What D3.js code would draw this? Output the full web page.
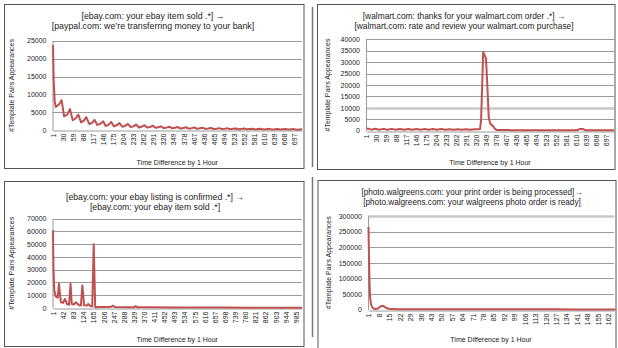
<!DOCTYPE html>
<html>
<head>
<meta charset="utf-8">
<script src="https://cdn.jsdelivr.net/npm/d3@7"></script>
<style>
  body { margin: 0; background: #fff; }
  svg { display: block; }
  text { font-family: "Liberation Sans", Arial, sans-serif; fill: #222; }
</style>
</head>
<body>
<script>
// tick labels (hours)
var xLabelsEbaySold = [1,30,59,88,117,146,175,204,233,262,291,320,349,378,407,436,465,494,523,552,581,610,639,668,697];
var xLabelsWalmart = [1,30,59,88,117,146,175,204,233,262,291,320,349,378,407,436,465,494,523,552,581,610,639,668,697];
var xLabelsEbayList = [1,42,83,124,165,206,247,288,329,370,411,452,493,534,575,616,657,698,739,780,821,862,903,944,985];
var xLabelsWalgreens = [1,8,15,22,29,36,43,50,57,64,71,78,85,92,99,106,113,120,127,134,141,148,155,162];

var yTicksEbaySold = [0,5000,10000,15000,20000,25000];
var yTicksWalmart = [0,5000,10000,15000,20000,25000,30000,35000,40000];
var yTicksEbayList = [0,10000,20000,30000,40000,50000,60000,70000];
var yTicksWalgreens = [0,50000,100000,150000,200000,250000,300000];

// [hour, #template pairs] vertices
var ebaySold = [
  [1,23800],[3,14000],[6,8000],[9,6500],[18,7200],[26,8400],[33,3900],[42,4400],[50,5900],
  [58,2800],[66,3300],[74,4400],[82,2200],[90,2700],[97,3700],[106,1700],[114,2100],[121,2900],
  [129,1500],[138,1800],[146,2500],[153,1200],[161,1500],[169,2300],[177,1100],[185,1400],[193,2000],
  [201,1000],[209,1200],[217,1800],[225,900],[233,1100],[241,1600],[249,800],[257,1000],[265,1400],
  [273,750],[281,900],[289,1300],[297,700],[305,850],[313,1100],[321,600],[329,750],[337,1000],
  [345,550],[353,700],[361,900],[369,500],[377,650],[385,850],[393,450],[401,600],[409,800],
  [417,420],[425,550],[433,700],[441,380],[449,500],[457,650],[465,350],[473,450],[481,600],
  [489,330],[497,420],[505,550],[513,300],[521,400],[529,500],[537,280],[545,380],[553,480],
  [561,260],[569,350],[577,450],[585,250],[593,330],[601,420],[609,230],[617,310],[625,400],
  [633,220],[641,290],[649,380],[657,200],[665,280],[673,350],[681,190],[689,260],[697,330],
  [705,180],[713,250],[720,300]
];
var walmart = [
  [1,1000],[6,900],[14,450],[26,850],[38,450],[50,800],[62,400],[74,800],[86,400],[98,750],
  [110,400],[122,750],[134,400],[146,750],[158,400],[170,700],[182,400],[194,700],[206,400],
  [218,700],[230,400],[242,650],[254,400],[266,650],[278,400],[290,650],[302,400],[314,650],
  [326,600],[331,700],[334,5000],[340,34300],[343,33500],[348,31700],[352,20000],[356,6000],
  [360,3200],[364,2500],[368,2200],[374,800],[380,300],[420,250],[470,200],[520,200],[570,200],
  [612,200],[622,800],[630,700],[638,200],[680,150],[720,150]
];
var ebayList = [
  [1,60900],[3,30000],[6,14000],[12,9000],[20,8000],[25,18900],[33,4500],[42,4000],[49,7100],
  [58,3100],[66,2500],[72,18900],[77,3100],[86,2800],[93,4500],[107,2100],[114,2000],[120,17600],
  [127,2100],[138,2000],[144,3100],[152,1500],[160,1200],[166,49900],[172,600],[190,800],[214,700],
  [236,900],[244,1800],[252,700],[300,600],[330,600],[336,1500],[342,600],[400,500],[500,400],
  [600,300],[700,300],[800,250],[900,200],[1010,200]
];
var walgreens = [
  [1,265000],[2,45000],[3,12000],[4,5000],[5,2500],[6,2000],[7,3000],[8,6000],[9,9500],[10,11500],
  [11,11000],[12,8000],[13,5000],[14,3000],[15,2000],[17,1500],[20,1200],[30,1000],[50,800],
  [80,600],[110,500],[140,400],[167,300]
];

var titlesEbaySold = ["[ebay.com: your ebay item sold .*] \u2192", "[paypal.com: we\u2019re transferring money to your bank]"];
var titlesWalmart = ["[walmart.com: thanks for your walmart.com order .*] \u2192", "[walmart.com: rate and review your walmart.com purchase]"];
var titlesEbayList = ["[ebay.com: your ebay listing is confirmed .*] \u2192", "[ebay.com: your ebay item sold .*]"];
var titlesWalgreens = ["[photo.walgreens.com: your print order is being processed]\u2192", "[photo.walgreens.com: your walgreens photo order is ready]"];

var lineColor = "#c0504d";

var svg = d3.select("body").append("svg")
    .attr("width", 618)
    .attr("height", 348);

// scan artefacts: dark separator strips left of the right-hand panels
svg.append("line").attr("x1", 312.5).attr("x2", 312.5).attr("y1", 7).attr("y2", 167)
    .attr("stroke", "#777").attr("stroke-width", 1.5);
svg.append("line").attr("x1", 312.5).attr("x2", 312.5).attr("y1", 177).attr("y2", 337)
    .attr("stroke", "#777").attr("stroke-width", 1.5);

var panels = [
  { box: [4.5, 4.5, 304, 168.5], plot: [52.5, 40.7, 302, 130.3], titleX: 153, titleY: 19, titleSize: 8.8,
    ylabX: 12, xlabY: 165, titles: titlesEbaySold, xLabels: xLabelsEbaySold, yTicks: yTicksEbaySold,
    xMax: 720, data: ebaySold, curve: d3.curveLinear },
  { box: [317.5, 4.5, 615, 169.5], plot: [366, 39.3, 614, 130.7], titleX: 464, titleY: 19, titleSize: 8.4,
    ylabX: 328, xlabY: 165, titles: titlesWalmart, xLabels: xLabelsWalmart, yTicks: yTicksWalmart,
    xMax: 720, data: walmart, curve: d3.curveLinear, heavy: 10000 },
  { box: [4.5, 181.5, 304, 346.5], plot: [52.5, 218.5, 302, 308], titleX: 155, titleY: 199.5, titleSize: 8.7,
    ylabX: 12, xlabY: 342, titles: titlesEbayList, xLabels: xLabelsEbayList, yTicks: yTicksEbayList,
    xMax: 1010, data: ebayList, curve: d3.curveLinear },
  { box: [318, 180.5, 616, 352], plot: [368, 216, 614, 309.5], titleX: 472, titleY: 195, titleSize: 8.2,
    ylabX: 329, xlabY: 342, titles: titlesWalgreens, xLabels: xLabelsWalgreens, yTicks: yTicksWalgreens,
    xMax: 166, data: walgreens, curve: d3.curveMonotoneX, heavy: 300000 }
];

panels.forEach(drawPanel);

function drawPanel(p) {
    var g = svg.append("g");
    var L = p.plot[0], T = p.plot[1], R = p.plot[2], B = p.plot[3];

    g.append("rect")
        .attr("x", p.box[0]).attr("y", p.box[1])
        .attr("width", p.box[2] - p.box[0]).attr("height", p.box[3] - p.box[1])
        .attr("fill", "none").attr("stroke", "#555").attr("stroke-width", 1);

    var x = d3.scaleLinear().domain([1, p.xMax]).range([L + 0.5, R]);
    var y = d3.scaleLinear().domain([0, d3.max(p.yTicks)]).range([B, T]);

    // gridlines
    g.selectAll(".grid").data(p.yTicks.slice(1)).enter().append("line")
        .attr("x1", L).attr("x2", R)
        .attr("y1", (d) => Math.round(y(d)) + 0.5).attr("y2", (d) => Math.round(y(d)) + 0.5)
        .attr("stroke", (d) => d === p.heavy ? "#c8c8c8" : "#9a9a9a")
        .attr("stroke-width", (d) => d === p.heavy ? 2.5 : 1);

    // y axis
    var yAxis = g.append("g").attr("transform", "translate(" + L + ",0)")
        .call(d3.axisLeft(y).tickValues(p.yTicks).tickSize(0).tickPadding(6).tickFormat(d3.format("d")));
    yAxis.select(".domain").attr("stroke", "#9a9a9a");
    yAxis.selectAll("text").attr("font-size", "7px").attr("font-family", "Liberation Sans, Arial, sans-serif");

    // x axis
    var xAxis = g.append("g").attr("transform", "translate(0," + (Math.round(B) + 0.5) + ")")
        .call(d3.axisBottom(x).tickValues(p.xLabels).tickSize(0).tickFormat(d3.format("d")));
    xAxis.select(".domain").attr("stroke", "#9a9a9a");
    xAxis.selectAll("text")
        .attr("font-size", "7px").attr("font-family", "Liberation Sans, Arial, sans-serif")
        .attr("text-anchor", "end")
        .attr("transform", "rotate(-90)")
        .attr("x", -3).attr("y", 0).attr("dy", "0.35em");

    // series
    var line = d3.line()
        .x((d) => x(d[0]))
        .y((d) => y(d[1]))
        .curve(p.curve);
    g.append("path")
        .datum(p.data)
        .attr("d", line)
        .attr("fill", "none")
        .attr("stroke", lineColor)
        .attr("stroke-width", 2)
        .attr("stroke-linejoin", "round");

    // titles
    g.selectAll(".title").data(p.titles).enter().append("text")
        .attr("x", p.titleX)
        .attr("y", (d, i) => p.titleY + i * 10)
        .attr("text-anchor", "middle")
        .attr("font-size", p.titleSize + "px")
        .text((d) => d);

    // axis titles
    g.append("text")
        .attr("transform", "translate(" + p.ylabX + "," + ((T + B) / 2) + ") rotate(-90)")
        .attr("text-anchor", "middle")
        .attr("dy", "0.35em")
        .attr("font-size", "7px")
        .text("#Template Pairs Appearances");
    g.append("text")
        .attr("x", (L + R) / 2)
        .attr("y", p.xlabY)
        .attr("text-anchor", "middle")
        .attr("font-size", "7px")
        .text("Time Difference by 1 Hour");
}
</script>
</body>
</html>
